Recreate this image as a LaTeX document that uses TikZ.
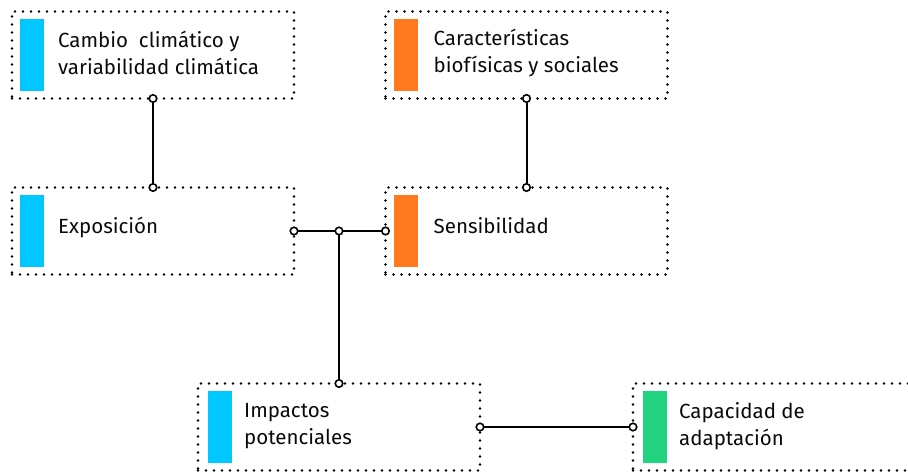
\documentclass[tikz,border=0pt]{standalone}
\usepackage{fontspec}
\setmainfont{Fira Sans}
\definecolor{cy}{RGB}{0,200,255}
\definecolor{orb}{RGB}{255,122,30}
\definecolor{gr}{RGB}{34,211,130}
\definecolor{tx}{RGB}{10,10,10}
\begin{document}
\begin{tikzpicture}[x=1pt,y=-1pt,
  box/.style={draw, line width=2.6pt, line cap=round, dash pattern=on 0pt off 8pt,
    minimum width=282pt, minimum height=87pt, inner sep=0pt, outer sep=0pt},
  bar/.style={fill=#1, minimum width=24pt, minimum height=72pt, inner sep=0pt, anchor=west},
  lbl/.style={anchor=west, align=left, text=tx, font=\fontsize{20.5pt}{27pt}\selectfont, inner sep=0pt},
  conn/.style={line width=2pt},
  endc/.style={circle, draw, fill=white, line width=1.6pt, minimum size=7.5pt, inner sep=0pt}]
\useasboundingbox (0,0) rectangle (908,473);
\clip (0,0) rectangle (908,473);
\node[box] (b1) at (153,55) {};
\node[box] (b2) at (526.5,55) {};
\node[box] (expo) at (153,231) {};
\node[box] (sens) at (526.5,231) {};
\node[box] (imp) at (339,427) {};
\node[box] (cap) at (774,427) {};
\node[bar=cy] (bar1) at ([xshift=8pt]b1.west) {};
\node[bar=orb] (bar2) at ([xshift=8pt]b2.west) {};
\node[bar=cy] (bar3) at ([xshift=8pt]expo.west) {};
\node[bar=orb] (bar4) at ([xshift=8pt]sens.west) {};
\node[bar=cy] (bar5) at ([xshift=10pt]imp.west) {};
\node[bar=gr] (bar6) at ([xshift=10pt]cap.west) {};
\node[lbl] (t1) at ([xshift=46pt,yshift=2pt]b1.west) {Cambio\ \ climático y\\variabilidad climática};
\node[lbl] (t2) at ([xshift=48pt,yshift=2pt]b2.west) {Características\\biofísicas y sociales};
\node[lbl] (t3) at ([xshift=46pt,yshift=4pt]expo.west) {Exposición};
\node[lbl] (t4) at ([xshift=48pt,yshift=5pt]sens.west) {Sensibilidad};
\node[lbl] (t5) at ([xshift=46pt,yshift=1pt]imp.west) {Impactos\\potenciales};
\node[lbl] (t6) at ([xshift=46pt,yshift=1pt]cap.west) {Capacidad de\\adaptación};
\coordinate (j) at (339,231);
\draw[conn] (b1.south) -- (expo.north);
\draw[conn] (b2.south) -- (sens.north);
\draw[conn] (expo.east) -- (sens.west);
\draw[conn] (j) -- (imp.north);
\draw[conn] (imp.east) -- (cap.west);
\foreach \p in {b1.south, expo.north, b2.south, sens.north, expo.east, sens.west, j, imp.north, imp.east, cap.west}
  \node[endc] at (\p) {};
\end{tikzpicture}
\end{document}
